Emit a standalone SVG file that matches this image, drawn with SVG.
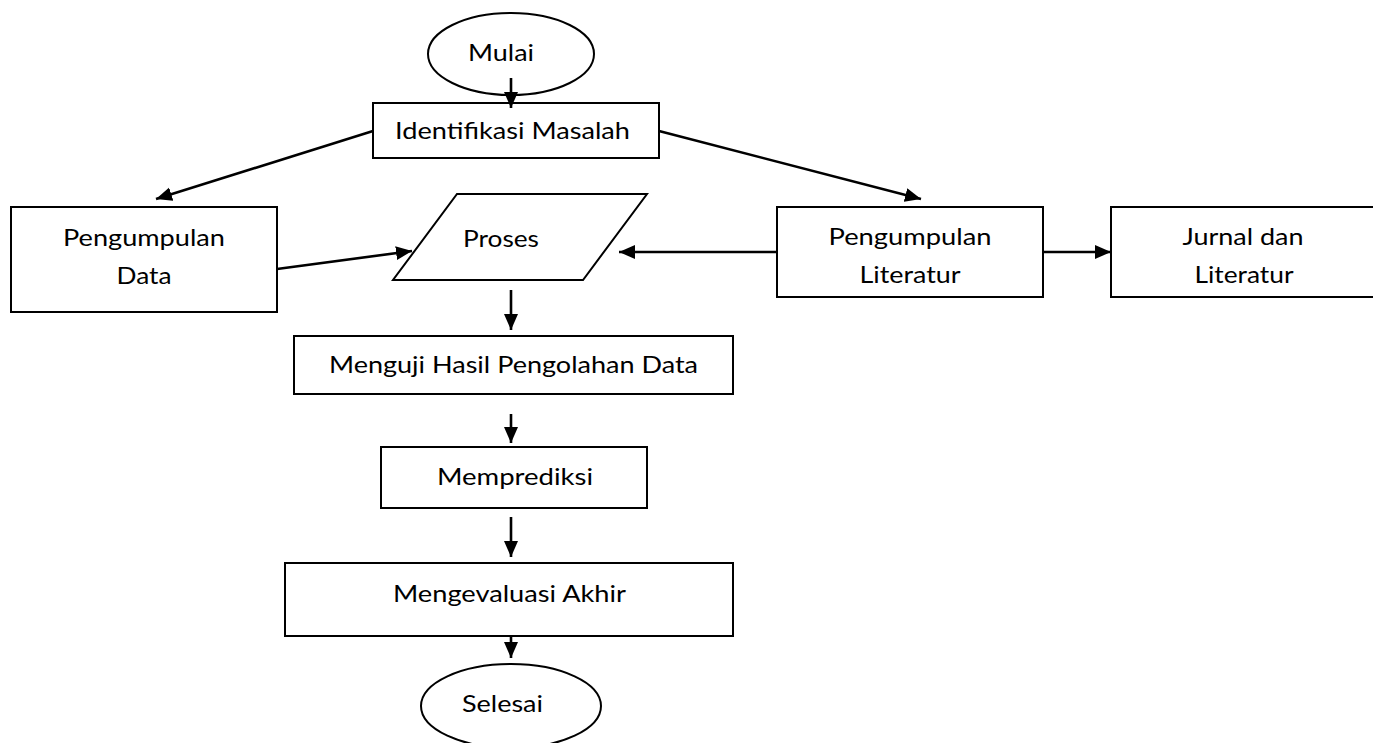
<svg xmlns="http://www.w3.org/2000/svg" width="1373" height="743" viewBox="0 0 1373 743">
<style>
.shape{fill:#fff;stroke:#000;stroke-width:2}
.lbl{font-family:Lato,"Liberation Sans",sans-serif;font-size:23px;fill:#000;text-anchor:middle}
.con{stroke:#000;stroke-width:2.6;fill:none;marker-end:url(#ah)}
</style>
<defs>
<marker id="ah" markerUnits="userSpaceOnUse" markerWidth="17" markerHeight="15" refX="16" refY="7" orient="auto">
<path d="M0,0 L16,7 L0,14 z" fill="#000"/>
</marker>
</defs>
<rect width="1373" height="743" fill="#fff"/>
<g id="mulai">
<ellipse class="shape" cx="511" cy="54" rx="83" ry="41"/>
<text class="lbl" x="501" y="61" textLength="66" lengthAdjust="spacingAndGlyphs">Mulai</text>
</g>
<g id="identifikasi">
<rect class="shape" x="373" y="103" width="286" height="55"/>
<text class="lbl" x="512.5" y="139" textLength="235" lengthAdjust="spacingAndGlyphs">Identifikasi Masalah</text>
</g>
<g id="pengumpulan-data">
<rect class="shape" x="11" y="207" width="266" height="105"/>
<text class="lbl" x="144" y="246" textLength="162" lengthAdjust="spacingAndGlyphs">Pengumpulan</text>
<text class="lbl" x="144" y="284" textLength="55" lengthAdjust="spacingAndGlyphs">Data</text>
</g>
<g id="proses">
<polygon class="shape" points="457,194 647,194 583,280 393,280"/>
<text class="lbl" x="501" y="247" textLength="76" lengthAdjust="spacingAndGlyphs">Proses</text>
</g>
<g id="pengumpulan-literatur">
<rect class="shape" x="777" y="207" width="266" height="90"/>
<text class="lbl" x="910" y="245" textLength="163" lengthAdjust="spacingAndGlyphs">Pengumpulan</text>
<text class="lbl" x="910" y="283" textLength="101" lengthAdjust="spacingAndGlyphs">Literatur</text>
</g>
<g id="jurnal">
<rect class="shape" x="1111" y="207" width="270" height="90"/>
<text class="lbl" x="1243" y="245" textLength="121" lengthAdjust="spacingAndGlyphs">Jurnal dan</text>
<text class="lbl" x="1244" y="283" textLength="99" lengthAdjust="spacingAndGlyphs">Literatur</text>
</g>
<g id="menguji">
<rect class="shape" x="294" y="336" width="439" height="58"/>
<text class="lbl" x="513.5" y="373" textLength="369" lengthAdjust="spacingAndGlyphs">Menguji Hasil Pengolahan Data</text>
</g>
<g id="memprediksi">
<rect class="shape" x="381" y="447" width="266" height="61"/>
<text class="lbl" x="515" y="485" textLength="156" lengthAdjust="spacingAndGlyphs">Memprediksi</text>
</g>
<g id="mengevaluasi">
<rect class="shape" x="285" y="563" width="448" height="73"/>
<text class="lbl" x="509.5" y="602" textLength="233" lengthAdjust="spacingAndGlyphs">Mengevaluasi Akhir</text>
</g>
<g id="selesai">
<ellipse class="shape" cx="511" cy="706" rx="90" ry="42"/>
<text class="lbl" x="502.5" y="712" textLength="81" lengthAdjust="spacingAndGlyphs">Selesai</text>
</g>
<g id="connectors">
<line class="con" x1="511" y1="78" x2="511" y2="108"/>
<line class="con" x1="373" y1="131" x2="156" y2="199"/>
<line class="con" x1="659" y1="131" x2="921" y2="199"/>
<line class="con" x1="277" y1="269" x2="412" y2="251"/>
<line class="con" x1="777" y1="252" x2="619" y2="252"/>
<line class="con" x1="1043" y1="252" x2="1111" y2="252"/>
<line class="con" x1="511" y1="290" x2="511" y2="330"/>
<line class="con" x1="511" y1="414" x2="511" y2="443"/>
<line class="con" x1="511" y1="517" x2="511" y2="557"/>
<line class="con" x1="511" y1="636" x2="511" y2="658"/>
</g>
</svg>
